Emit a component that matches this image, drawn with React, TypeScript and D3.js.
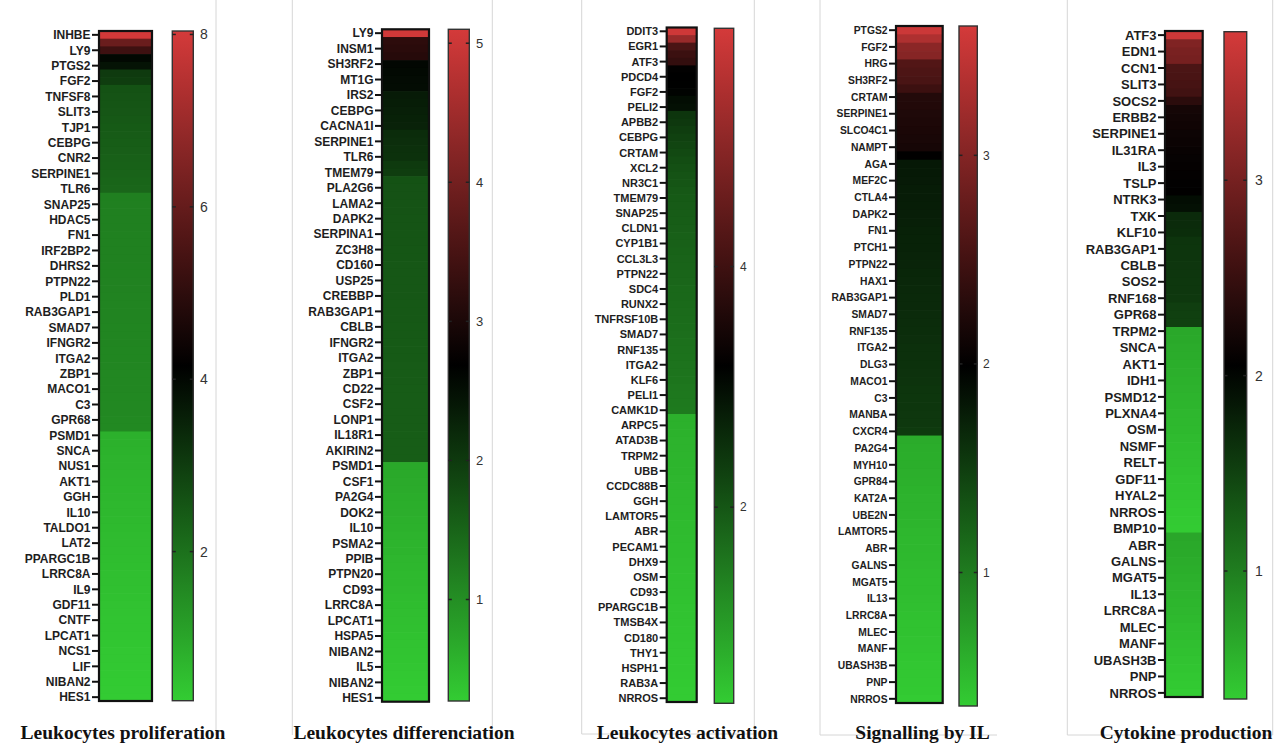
import React from "react";
import * as d3 from "d3";

// ---------- DATA ----------
// Each heatmap has twice as many rows as printed labels minus one:
// gene labels are printed on every other row (rows 0, 2, 4, ...).

const titles = [
  "Leukocytes proliferation",
  "Leukocytes differenciation",
  "Leukocytes activation",
  "Signalling by IL",
  "Cytokine production",
];

const p1Genes = ["INHBE","LY9","PTGS2","FGF2","TNFSF8","SLIT3","TJP1","CEBPG","CNR2","SERPINE1","TLR6","SNAP25","HDAC5","FN1","IRF2BP2","DHRS2","PTPN22","PLD1","RAB3GAP1","SMAD7","IFNGR2","ITGA2","ZBP1","MACO1","C3","GPR68","PSMD1","SNCA","NUS1","AKT1","GGH","IL10","TALDO1","LAT2","PPARGC1B","LRRC8A","IL9","GDF11","CNTF","LPCAT1","NCS1","LIF","NIBAN2","HES1"];
const p1Values = [
  8.0, 6.1, 5.3, 4.0, 3.8, 3.05, 3.0,
  2.6, 2.57, 2.54, 2.51, 2.48, 2.45, 2.42, 2.39, 2.36, 2.33, 2.3, 2.27, 2.24, 2.21,
  1.73, 1.72, 1.72, 1.71, 1.71, 1.7, 1.7, 1.69, 1.69, 1.68, 1.68, 1.67, 1.67, 1.66, 1.65, 1.65, 1.64, 1.63, 1.63, 1.62, 1.61, 1.61, 1.6, 1.59, 1.59, 1.58, 1.57, 1.56, 1.56, 1.55, 1.54,
  0.8, 0.78, 0.77, 0.75, 0.74, 0.72, 0.71, 0.69, 0.68, 0.66, 0.65, 0.63, 0.62, 0.6, 0.59, 0.57, 0.56, 0.54, 0.52, 0.51, 0.49, 0.48, 0.46, 0.45, 0.43, 0.42, 0.4, 0.39, 0.37, 0.36, 0.34, 0.33, 0.31, 0.3, 0.28,
];
const p1Range = [0.27, 8.04];
const p1Ticks = [2, 4, 6, 8];

const p2Genes = ["LY9","INSM1","SH3RF2","MT1G","IRS2","CEBPG","CACNA1I","SERPINE1","TLR6","TMEM79","PLA2G6","LAMA2","DAPK2","SERPINA1","ZC3H8","CD160","USP25","CREBBP","RAB3GAP1","CBLB","IFNGR2","ITGA2","ZBP1","CD22","CSF2","LONP1","IL18R1","AKIRIN2","PSMD1","CSF1","PA2G4","DOK2","IL10","PSMA2","PPIB","PTPN20","CD93","LRRC8A","LPCAT1","HSPA5","NIBAN2","IL5","NIBAN2","HES1"];
const p2Values = [
  5.05, 3.2, 3.16, 3.12,
  2.6, 2.58, 2.56, 2.54,
  2.36, 2.34, 2.32, 2.3, 2.28,
  2.16, 2.14, 2.12, 2.1,
  2.0, 1.96,
  1.72, 1.71, 1.71, 1.7, 1.7, 1.69, 1.69, 1.68, 1.68, 1.67, 1.67, 1.66, 1.66, 1.66, 1.65, 1.65, 1.64, 1.64, 1.64, 1.63, 1.63, 1.62, 1.62, 1.62, 1.61, 1.61, 1.61, 1.6, 1.6, 1.6, 1.59, 1.59, 1.59, 1.58, 1.58, 1.58, 1.58,
  0.7, 0.69, 0.67, 0.66, 0.64, 0.63, 0.62, 0.6, 0.59, 0.57, 0.56, 0.55, 0.53, 0.52, 0.5, 0.49, 0.48, 0.46, 0.45, 0.43, 0.42, 0.41, 0.39, 0.38, 0.36, 0.35, 0.34, 0.32, 0.31, 0.29, 0.28,
];
const p2Range = [0.27, 5.1];
const p2Ticks = [1, 2, 3, 4, 5];

const p3Genes = ["DDIT3","EGR1","ATF3","PDCD4","FGF2","PELI2","APBB2","CEBPG","CRTAM","XCL2","NR3C1","TMEM79","SNAP25","CLDN1","CYP1B1","CCL3L3","PTPN22","SDC4","RUNX2","TNFRSF10B","SMAD7","RNF135","ITGA2","KLF6","PELI1","CAMK1D","ARPC5","ATAD3B","TRPM2","UBB","CCDC88B","GGH","LAMTOR5","ABR","PECAM1","DHX9","OSM","CD93","PPARGC1B","TMSB4X","CD180","THY1","HSPH1","RAB3A","NRROS"];
const p3Values = [
  5.9, 5.19, 4.15, 3.95, 3.85,
  3.2, 3.18, 3.16, 3.14, 3.0, 2.95,
  2.45, 2.4, 2.34, 2.28, 2.22, 2.17, 2.12, 2.08, 2.04, 2.0,
  1.96, 1.94, 1.93, 1.91, 1.9, 1.88, 1.86, 1.85, 1.83, 1.82, 1.8, 1.78, 1.77, 1.75, 1.74, 1.72, 1.7, 1.69, 1.67, 1.66, 1.64, 1.62, 1.61, 1.59, 1.58, 1.56, 1.54, 1.53, 1.51, 1.5,
  0.75, 0.74, 0.73, 0.72, 0.71, 0.7, 0.69, 0.68, 0.67, 0.66, 0.65, 0.64, 0.63, 0.62, 0.61, 0.6, 0.59, 0.58, 0.57, 0.56, 0.55, 0.54, 0.53, 0.52, 0.51, 0.5, 0.49, 0.48, 0.47, 0.46, 0.45, 0.44, 0.43, 0.42, 0.41, 0.4, 0.39, 0.38,
];
const p3Range = [0.37, 5.98];
const p3Ticks = [2, 4];

const p4Genes = ["PTGS2","FGF2","HRG","SH3RF2","CRTAM","SERPINE1","SLCO4C1","NAMPT","AGA","MEF2C","CTLA4","DAPK2","FN1","PTCH1","PTPN22","HAX1","RAB3GAP1","SMAD7","RNF135","ITGA2","DLG3","MACO1","C3","MANBA","CXCR4","PA2G4","MYH10","GPR84","KAT2A","UBE2N","LAMTOR5","ABR","GALNS","MGAT5","IL13","LRRC8A","MLEC","MANF","UBASH3B","PNP","NRROS"];
const p4Values = [
  3.55, 3.33, 3.06, 3.02, 2.62, 2.58, 2.55, 2.45,
  2.26, 2.25, 2.23, 2.21, 2.2, 2.18, 2.16,
  2.0,
  1.8, 1.79, 1.78, 1.77, 1.77, 1.76, 1.75, 1.74, 1.73, 1.72, 1.72, 1.71, 1.7, 1.69, 1.68, 1.67, 1.66, 1.66, 1.65, 1.64, 1.63, 1.62, 1.61, 1.61, 1.6, 1.59, 1.58, 1.57, 1.56, 1.56, 1.55, 1.54, 1.53,
  0.62, 0.61, 0.6, 0.6, 0.59, 0.58, 0.57, 0.56, 0.56, 0.55, 0.54, 0.53, 0.52, 0.52, 0.51, 0.5, 0.49, 0.48, 0.48, 0.47, 0.46, 0.45, 0.44, 0.44, 0.43, 0.42, 0.41, 0.4, 0.4, 0.39, 0.38, 0.37,
];
const p4Range = [0.36, 3.62];
const p4Ticks = [1, 2, 3];

const p5Genes = ["ATF3","EDN1","CCN1","SLIT3","SOCS2","ERBB2","SERPINE1","IL31RA","IL3","TSLP","NTRK3","TXK","KLF10","RAB3GAP1","CBLB","SOS2","RNF168","GPR68","TRPM2","SNCA","AKT1","IDH1","PSMD12","PLXNA4","OSM","NSMF","RELT","GDF11","HYAL2","NRROS","BMP10","ABR","GALNS","MGAT5","IL13","LRRC8A","MLEC","MANF","UBASH3B","PNP","NRROS"];
const p5Values = [
  3.7,
  3.08, 3.03, 3.0,
  2.66, 2.64, 2.62, 2.58,
  2.4,
  2.22, 2.2, 2.18, 2.16, 2.14, 2.12, 2.1, 2.09, 2.08, 2.07, 2.06,
  1.94, 1.92,
  1.7, 1.69, 1.68,
  1.62, 1.61, 1.61, 1.6, 1.6, 1.59, 1.59, 1.58,
  1.53, 1.52, 1.51,
  0.65, 0.64, 0.62, 0.61, 0.6, 0.59, 0.57, 0.56, 0.55, 0.54, 0.52, 0.51, 0.5, 0.49, 0.47, 0.46, 0.45, 0.44, 0.42, 0.41, 0.4, 0.39, 0.37, 0.36, 0.35,
  0.66, 0.64, 0.63, 0.61, 0.6, 0.58, 0.56, 0.55, 0.53, 0.52, 0.5, 0.48, 0.47, 0.45, 0.44, 0.42, 0.4, 0.39, 0.37, 0.35,
];
const p5Range = [0.345, 3.76];
const p5Ticks = [1, 2, 3];

// ---------- LAYOUT (positions / sizes) ----------
const layouts = [
  { hx: 99, hw: 53, top: 31, bottom: 701, lx: 172.3, lw: 21, ltop: 31, lbot: 700.7, tlx: 200, labelFont: 12, tickFont: 14, titleX: 123 },
  { hx: 382, hw: 47, top: 29.3, bottom: 701.7, lx: 448.3, lw: 21, ltop: 29.3, lbot: 701, tlx: 476, labelFont: 12, tickFont: 13, titleX: 404 },
  { hx: 666.7, hw: 30, top: 27.5, bottom: 702, lx: 714.3, lw: 19.4, ltop: 28.3, lbot: 703.3, tlx: 740, labelFont: 11, tickFont: 12, titleX: 687.5 },
  { hx: 896, hw: 46.7, top: 26, bottom: 703, lx: 959, lw: 18.3, ltop: 26, lbot: 706, tlx: 983, labelFont: 10.3, tickFont: 12, titleX: 922.5 },
  { hx: 1165, hw: 37.7, top: 31, bottom: 697, lx: 1224, lw: 22.7, ltop: 31.7, lbot: 699, tlx: 1255, labelFont: 13, tickFont: 14, titleX: 1186 },
];

const frameLines = [
  [216, 0, 216, 735],
  [292.3, 0, 292.3, 735],
  [492.3, 0, 492.3, 735],
  [581.7, 0, 581.7, 734],
  [581.7, 734, 754.3, 734],
  [754.3, 0, 754.3, 734],
  [820, 0, 820, 735],
  [820, 735, 997, 735],
  [1067.3, 0, 1067.3, 735],
  [1272.7, 0, 1272.7, 735],
  [1067.3, 735, 1272.7, 735],
];

const GREEN = "#33cc33";
const BLACK = "#000000";
const RED = "#d43a3a";
const SANS = "'Liberation Sans', Arial, sans-serif";
const SERIF = "'Liberation Serif', 'Times New Roman', serif";

type PanelProps = {
  idx: number;
  genes: string[];
  values: number[];
  range: number[];
  ticks: number[];
  title: string;
  L: any;
};

function Panel({ idx, genes, values, range, ticks, title, L }: PanelProps) {
  const rows = d3.range(values.length);
  const y = d3.scaleBand<number>().domain(rows).range([L.top, L.bottom]).padding(0);
  const [lo, hi] = range;
  const mid = (lo + hi) / 2;
  const color = d3
    .scaleLinear<string>()
    .domain([lo, mid, hi])
    .range([GREEN, BLACK, RED])
    .interpolate(d3.interpolateRgb);
  const ly = d3.scaleLinear().domain([lo, hi]).range([L.lbot, L.ltop]);
  const gid = `legendGrad${idx}`;
  const stops = d3.range(0, 21).map((k) => {
    const t = k / 20;
    return { t, c: color(lo + t * (hi - lo)) };
  });
  const bw = y.bandwidth();
  return (
    <g>
      <defs>
        <linearGradient id={gid} x1="0" y1="1" x2="0" y2="0">
          {stops.map((s) => (
            <stop key={s.t} offset={s.t} stopColor={s.c} />
          ))}
        </linearGradient>
      </defs>
      {values.map((v, i) => (
        <rect
          key={i}
          x={L.hx}
          y={y(i)}
          width={L.hw}
          height={i === values.length - 1 ? bw : bw + 0.7}
          fill={color(v)}
        />
      ))}
      <rect
        x={L.hx}
        y={L.top}
        width={L.hw}
        height={L.bottom - L.top}
        fill="none"
        stroke="#111"
        strokeWidth={2.2}
      />
      {genes.map((g, k) => {
        const cy = (y(2 * k) as number) + bw / 2;
        return (
          <g key={k}>
            <line x1={L.hx - 7} x2={L.hx} y1={cy} y2={cy} stroke="#111" strokeWidth={2} />
            <text
              x={L.hx - 8.5}
              y={cy}
              dy="0.36em"
              textAnchor="end"
              fontFamily={SANS}
              fontWeight="bold"
              fontSize={L.labelFont}
              fill="#1e1e1e"
            >
              {g}
            </text>
          </g>
        );
      })}
      <rect
        x={L.lx}
        y={L.ltop}
        width={L.lw}
        height={L.lbot - L.ltop}
        fill={`url(#${gid})`}
        stroke="#333"
        strokeWidth={1.4}
      />
      {ticks.map((t) => {
        const ty = ly(t);
        return (
          <g key={t}>
            <line x1={L.lx} x2={L.lx + 3.5} y1={ty} y2={ty} stroke="#222" strokeWidth={1.5} />
            <line x1={L.lx + L.lw - 3.5} x2={L.lx + L.lw} y1={ty} y2={ty} stroke="#222" strokeWidth={1.5} />
            <text
              x={L.tlx}
              y={ty}
              dy="0.36em"
              fontFamily={SANS}
              fontSize={L.tickFont}
              fill="#333"
            >
              {t}
            </text>
          </g>
        );
      })}
      <text
        x={L.titleX}
        y={739}
        textAnchor="middle"
        fontFamily={SERIF}
        fontWeight="bold"
        fontSize={19.5}
        fill="#111"
      >
        {title}
      </text>
    </g>
  );
}

export default function App() {
  const panels = [
    { genes: p1Genes, values: p1Values, range: p1Range, ticks: p1Ticks },
    { genes: p2Genes, values: p2Values, range: p2Range, ticks: p2Ticks },
    { genes: p3Genes, values: p3Values, range: p3Range, ticks: p3Ticks },
    { genes: p4Genes, values: p4Values, range: p4Range, ticks: p4Ticks },
    { genes: p5Genes, values: p5Values, range: p5Range, ticks: p5Ticks },
  ];
  return (
    <svg
      width={1286}
      height={744}
      style={{ position: "absolute", left: 0, top: 0, background: "#fff" }}
    >
      <rect x={0} y={0} width={1286} height={744} fill="#fff" />
      {frameLines.map((l, i) => (
        <line key={i} x1={l[0]} y1={l[1]} x2={l[2]} y2={l[3]} stroke="#d6d6d6" strokeWidth={1} />
      ))}
      {panels.map((p, i) => (
        <Panel key={i} idx={i} {...p} title={titles[i]} L={layouts[i]} />
      ))}
    </svg>
  );
}
